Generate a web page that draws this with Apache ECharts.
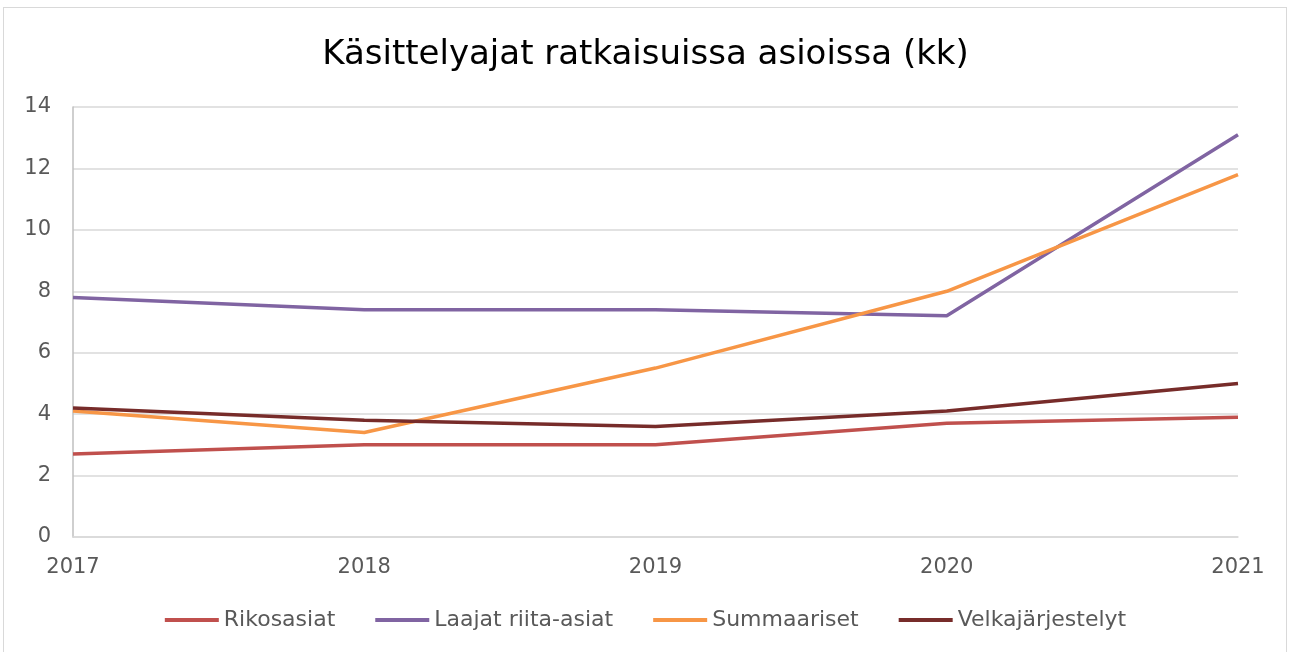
<!DOCTYPE html>
<html>
<head>
<meta charset="utf-8">
<script src="https://cdn.jsdelivr.net/npm/echarts@6/dist/echarts.min.js"></script>
<style>
    html, body { margin: 0; padding: 0; background: #fff; }
    #frame { position: absolute; left: 3px; top: 7px; width: 1284px; height: 650px; border: 1px solid #d9d9d9; box-sizing: border-box; }
    #chart { position: absolute; left: 0; top: 0; width: 1291px; height: 652px; }
</style>
</head>
<body>
<div id="frame"></div>
<div id="chart"></div>
<script>
// 数据
var years = ['2017', '2018', '2019', '2020', '2021'];
var rikosasiat = [2.7, 3.0, 3.0, 3.7, 3.9];
var laajatRiita = [7.8, 7.4, 7.4, 7.2, 13.1];
var summaariset = [4.1, 3.4, 5.5, 8.0, 11.8];
var velkajarjestelyt = [4.2, 3.8, 3.6, 4.1, 5.0];

var FONT = '"DejaVu Sans", sans-serif';

function lineSeries(name, data) {
    return {
        name: name,
        type: 'line',
        data: data,
        showSymbol: false,
        lineStyle: { width: 3.5 },
        emphasis: { disabled: true }
    };
}

var chart = echarts.init(document.getElementById('chart'));

var option = {
    animation: false,
    color: ['#c0504d', '#8064a2', '#f79646', '#772c2a'],
    title: {
        text: 'Käsittelyajat ratkaisuissa asioissa (kk)',
        left: 'center',
        top: 33,
        textStyle: {
            fontFamily: FONT,
            fontSize: 34,
            fontWeight: 'normal',
            color: '#000000'
        }
    },
    legend: {
        top: 604,
        left: 'center',
        itemWidth: 54,
        itemHeight: 4,
        itemGap: 40,
        icon: 'rect',
        textStyle: { fontFamily: FONT, fontSize: 22, color: '#595959' },
        data: ['Rikosasiat', 'Laajat riita-asiat', 'Summaariset', 'Velkajärjestelyt']
    },
    grid: {
        left: 73,
        right: 53,
        top: 107,
        bottom: 115
    },
    xAxis: {
        type: 'category',
        boundaryGap: false,
        data: years,
        axisLine: { lineStyle: { color: '#d9d9d9', width: 1.5 } },
        axisTick: { show: false },
        axisLabel: {
            fontFamily: FONT,
            fontSize: 21,
            color: '#595959',
            margin: 20,
            showMinLabel: true,
            showMaxLabel: true
        },
        splitLine: { show: false }
    },
    yAxis: {
        type: 'value',
        min: 0,
        max: 14,
        interval: 2,
        axisLine: { show: true, lineStyle: { color: '#bfbfbf', width: 1.5 } },
        axisTick: { show: false },
        axisLabel: {
            fontFamily: FONT,
            fontSize: 21,
            color: '#595959',
            margin: 22
        },
        splitLine: { lineStyle: { color: '#d9d9d9', width: 1.5 } }
    },
    series: [
        lineSeries('Rikosasiat', rikosasiat),
        lineSeries('Laajat riita-asiat', laajatRiita),
        lineSeries('Summaariset', summaariset),
        lineSeries('Velkajärjestelyt', velkajarjestelyt)
    ]
};

chart.setOption(option);
</script>
</body>
</html>
